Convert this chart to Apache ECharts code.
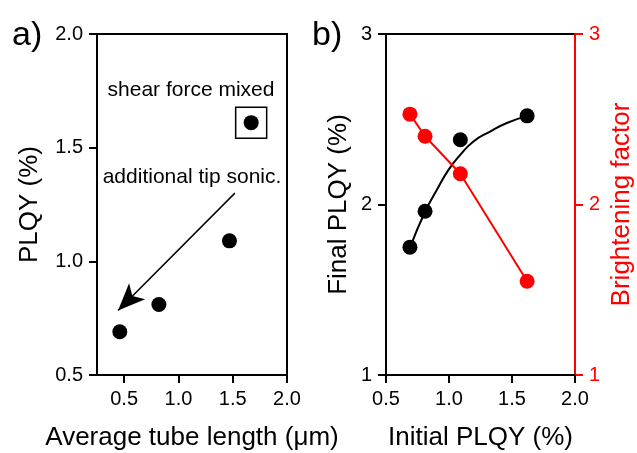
<!DOCTYPE html>
<html>
<head>
<meta charset="utf-8">
<script src="https://cdn.jsdelivr.net/npm/echarts@6/dist/echarts.min.js"></script>
<style>
html,body{margin:0;padding:0;background:#fff;}
#c{width:637px;height:453px;}
</style>
</head>
<body>
<div id="c"></div>
<script>
// Panel a: PLQY vs average tube length
const tubeLength = [0.46, 0.82, 1.47, 1.67];
const plqyA = [0.69, 0.81, 1.09, 1.61];
const boxedPoint = [1.67, 1.61];            // "shear force mixed" sample
const arrowStart = [1.52, 1.30];            // annotation arrow (data coords)
const arrowEnd = [0.444, 0.784];
const ticksA = [0.5, 1.0, 1.5, 2.0];

// Panel b: Final PLQY & brightening factor vs initial PLQY
const initialPLQY = [0.69, 0.81, 1.09, 1.62];
const finalPLQY = [1.75, 1.96, 2.38, 2.52];
const brightening = [2.53, 2.40, 2.18, 1.55];
// fitted curve
const fitX = [0.693, 0.811, 0.904, 0.996, 1.089, 1.194, 1.326, 1.459, 1.62];
const fitY = [1.753, 1.959, 2.086, 2.203, 2.291, 2.370, 2.428, 2.478, 2.52];

const FONT = 'Liberation Sans, Arial, sans-serif';
const BLACK = '#000';
const RED = '#ff0000';

function zip(a, b) { return a.map((v, i) => [v, b[i]]); }

function axis(color, extra, fmt, custom) {
  const tick = { show: true, length: 8, lineStyle: { color: color, width: 2 } };
  const label = { show: true, color: color, fontSize: 20, fontFamily: FONT, margin: 14 };
  if (fmt) label.formatter = fmt;
  if (custom) { tick.customValues = custom; label.customValues = custom; }
  return Object.assign({
    type: 'value',
    axisLine: { show: true, lineStyle: { color: color, width: 2 } },
    axisTick: tick,
    axisLabel: label,
    splitLine: { show: false },
    nameLocation: 'middle',
    nameTextStyle: { color: color, fontSize: 26, fontFamily: FONT }
  }, extra);
}
const f1 = v => v.toFixed(1);
const f0 = v => v.toFixed(0);

const chart = echarts.init(document.getElementById('c'), null, { renderer: 'canvas' });
chart.setOption({
  backgroundColor: '#fff',
  animation: false,
  grid: [
    { left: 97, top: 34, width: 190, height: 341, show: true, borderColor: BLACK, borderWidth: 2, outerBoundsMode: 'none', containLabel: false },
    { left: 386, top: 34, width: 189, height: 341, show: true, borderColor: BLACK, borderWidth: 2, outerBoundsMode: 'none', containLabel: false }
  ],
  xAxis: [
    axis(BLACK, { gridIndex: 0, min: 0.25, max: 2.0, name: 'Average tube length (\u03bcm)', nameGap: 50 }, f1, ticksA),
    axis(BLACK, { gridIndex: 1, min: 0.5, max: 2.0, interval: 0.5, name: 'Initial PLQY (%)', nameGap: 50 }, f1)
  ],
  yAxis: [
    axis(BLACK, { gridIndex: 0, min: 0.5, max: 2.0, interval: 0.5, name: 'PLQY (%)', nameGap: 54 }, f1),
    axis(BLACK, { gridIndex: 1, min: 1, max: 3, interval: 1, name: 'Final PLQY (%)', nameGap: 34 }, f0),
    axis(RED, { gridIndex: 1, position: 'right', min: 1, max: 3, interval: 1, name: 'Brightening factor', nameGap: 34 }, f0)
  ],
  series: [
    {
      type: 'scatter', xAxisIndex: 0, yAxisIndex: 0,
      data: zip(tubeLength, plqyA), symbol: 'circle', symbolSize: 15,
      itemStyle: { color: BLACK, opacity: 1 },
      markLine: {
        silent: true, animation: false,
        label: { show: false },
        lineStyle: { color: BLACK, width: 1.5, type: 'solid', opacity: 1 },
        data: [[
          { coord: arrowStart, symbol: 'none' },
          { coord: arrowEnd, symbol: 'arrow', symbolSize: [17, 27] }
        ]]
      }
    },
    {
      type: 'scatter', xAxisIndex: 0, yAxisIndex: 0,
      data: [boxedPoint], symbol: 'rect', symbolSize: 31,
      itemStyle: { color: 'rgba(0,0,0,0)', borderColor: BLACK, borderWidth: 1.5, opacity: 1 }
    },
    {
      type: 'line', xAxisIndex: 1, yAxisIndex: 1,
      data: zip(fitX, fitY), smooth: true, showSymbol: false, symbol: 'none',
      lineStyle: { color: BLACK, width: 2 }
    },
    {
      type: 'scatter', xAxisIndex: 1, yAxisIndex: 1,
      data: zip(initialPLQY, finalPLQY), symbol: 'circle', symbolSize: 15,
      itemStyle: { color: BLACK, opacity: 1 }
    },
    {
      type: 'line', xAxisIndex: 1, yAxisIndex: 2,
      data: zip(initialPLQY, brightening), symbol: 'circle', symbolSize: 15, showSymbol: true,
      lineStyle: { color: RED, width: 2 }, itemStyle: { color: RED, opacity: 1 }
    }
  ],
  graphic: [
    { type: 'text', x: 12, y: 36, style: { text: 'a)', font: '34px ' + FONT, fill: BLACK, textAlign: 'left', textVerticalAlign: 'middle', align: 'left', verticalAlign: 'middle' } },
    { type: 'text', x: 312, y: 36, style: { text: 'b)', font: '34px ' + FONT, fill: BLACK, textAlign: 'left', textVerticalAlign: 'middle', align: 'left', verticalAlign: 'middle' } },
    { type: 'text', x: 191, y: 90, style: { text: 'shear force mixed', font: '21px ' + FONT, fill: BLACK, textAlign: 'center', textVerticalAlign: 'middle', align: 'center', verticalAlign: 'middle' } },
    { type: 'text', x: 192, y: 177, style: { text: 'additional tip sonic.', font: '21px ' + FONT, fill: BLACK, textAlign: 'center', textVerticalAlign: 'middle', align: 'center', verticalAlign: 'middle' } }
  ]
});
</script>
</body>
</html>
